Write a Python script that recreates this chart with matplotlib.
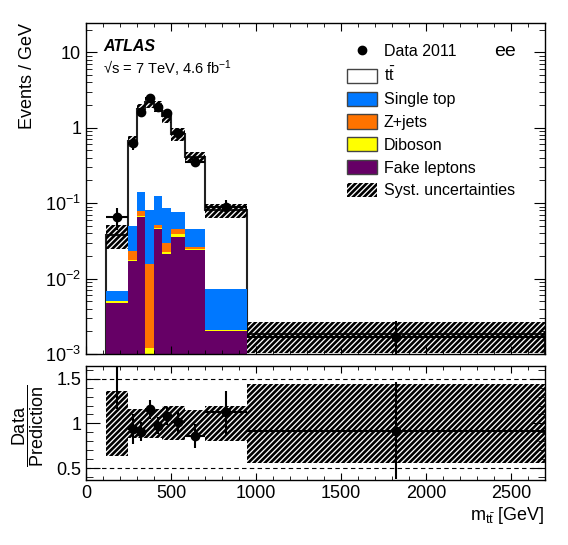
import numpy as np
import matplotlib
matplotlib.use('Agg')
import matplotlib.pyplot as plt
from matplotlib.patches import Patch
from matplotlib.lines import Line2D
from matplotlib.ticker import MultipleLocator, LogLocator, NullFormatter, FixedLocator, FuncFormatter

# bin edges in m_tt [GeV]
edges = [120, 250, 300, 350, 400, 450, 500, 580, 700, 950, 2700]

# events / GeV
data = [0.065, 0.62, 1.6, 2.5, 1.9, 1.56, 0.845, 0.356, 0.090, 0.0017]
data_err = [0.021, 0.11, 0.18, 0.22, 0.19, 0.14, 0.10, 0.054, 0.019, 0.001]

ttbar = [0.0312, 0.611, 1.62, 2.08, 1.825, 1.354, 0.754, 0.368, 0.0727, 0.0018]
single_top = [0.0018, 0.0257, 0.0625, 0.0658, 0.0734, 0.0564, 0.0303, 0.0193, 0.0052, 0.00005]
zjets = [0.00002, 0.0056, 0.011, 0.0145, 0.0042, 0.0068, 0.0064, 0.0015, 0.00002, 0.0]
diboson = [0.0002, 0.0008, 0.0019, 0.0012, 0.0022, 0.0014, 0.0042, 0.0009, 0.0001, 0.0]
fake = [0.0048, 0.0169, 0.0646, 0.0, 0.0452, 0.0213, 0.0351, 0.0240, 0.00199, 0.0]

# relative systematic uncertainty per bin
syst_rel = [0.36, 0.165, 0.165, 0.165, 0.165, 0.19, 0.19, 0.15, 0.20, 0.44]

legend_labels = ['Data 2011', r'$\mathrm{t\bar{t}}$', 'Single top', 'Z+jets',
                 'Diboson', 'Fake leptons', 'Syst. uncertainties']

c_st = '#0078ff'
c_z = '#ff7300'
c_dib = '#ffff00'
c_fake = '#660066'
hatch = '//////'

plt.rcParams['font.family'] = ['Liberation Sans', 'DejaVu Sans']
plt.rcParams['mathtext.fontset'] = 'custom'
plt.rcParams['mathtext.rm'] = 'Liberation Sans'
plt.rcParams['mathtext.it'] = 'Liberation Sans:italic'
plt.rcParams['mathtext.bf'] = 'Liberation Sans:bold'
plt.rcParams['hatch.linewidth'] = 1.9
plt.rcParams['axes.linewidth'] = 1.0

edges = np.array(edges, dtype=float)
centers = 0.5 * (edges[1:] + edges[:-1])
halfw = 0.5 * (edges[1:] - edges[:-1])
floor = 1e-6

cum_fake = np.array(fake)
cum_dib = cum_fake + np.array(diboson)
cum_z = cum_dib + np.array(zjets)
cum_st = cum_z + np.array(single_top)
total = cum_st + np.array(ttbar)
s = np.array(syst_rel)

fig = plt.figure(figsize=(5.68, 5.45), dpi=100)
ax = fig.add_axes([0.1514, 0.3505, 0.808, 0.608])
rax = fig.add_axes([0.1514, 0.1193, 0.808, 0.2091])

# stack, drawn as cumulative histograms from the top down
ax.stairs(total, edges, baseline=floor, fill=True, facecolor='white', edgecolor='none')
ax.stairs(total, edges, baseline=floor, color='#222222', lw=1.5)
for vals, col in [(cum_st, c_st), (cum_z, c_z), (cum_dib, c_dib), (cum_fake, c_fake)]:
    ax.stairs(np.maximum(vals, floor), edges, baseline=floor, fill=True,
              facecolor=col, edgecolor='none')

# systematic band
ax.stairs(total * (1 + s), edges, baseline=total * (1 - s), fill=True,
          facecolor='none', edgecolor='k', hatch=hatch, lw=0)

ax.errorbar(centers, data, yerr=data_err, xerr=halfw, fmt='o', color='k',
            ms=6, elinewidth=1.5, capsize=0)


def log_label(v, pos):
    if v >= 1:
        return '%g' % v
    return r'$10^{%d}$' % int(round(np.log10(v)))


ax.set_yscale('log')
ax.set_ylim(1e-3, 24.7)
ax.set_xlim(0, 2700)
ax.xaxis.set_major_locator(MultipleLocator(500))
ax.xaxis.set_minor_locator(MultipleLocator(100))
ax.yaxis.set_major_locator(LogLocator(base=10, numticks=10))
ax.yaxis.set_major_formatter(FuncFormatter(log_label))
ax.yaxis.set_minor_locator(LogLocator(base=10, subs=np.arange(2, 10), numticks=20))
ax.yaxis.set_minor_formatter(NullFormatter())
ax.tick_params(which='both', direction='in', top=True, right=True, labelsize=13)
ax.tick_params(axis='y', which='major', length=8)
ax.tick_params(axis='y', which='minor', length=4)
ax.tick_params(axis='x', which='major', length=6)
ax.tick_params(axis='x', which='minor', length=3)
ax.tick_params(axis='x', labelbottom=False)
ax.set_ylabel('Events / GeV', fontsize=13, loc='top')
ax.yaxis.set_label_coords(-0.11, 1.0)

handles = [Line2D([], [], marker='o', color='k', ls='none', ms=6),
           Patch(facecolor='white', edgecolor='#444444', lw=1),
           Patch(facecolor=c_st, edgecolor='#444444', lw=1),
           Patch(facecolor=c_z, edgecolor='#444444', lw=1),
           Patch(facecolor=c_dib, edgecolor='#444444', lw=1),
           Patch(facecolor=c_fake, edgecolor='#444444', lw=1),
           Patch(facecolor='white', edgecolor='k', hatch=hatch, lw=0)]
ax.legend(handles, legend_labels, loc='upper left', bbox_to_anchor=(0.5686, 0.937),
          frameon=False, fontsize=11.5, handlelength=1.9, handleheight=1.0,
          labelspacing=0.45, handletextpad=0.4, borderaxespad=0, borderpad=0)

ax.text(0.037, 0.927, 'ATLAS', transform=ax.transAxes, fontsize=11.5,
        fontweight='bold', fontstyle='italic', va='center')
ax.text(0.037, 0.86, '\u221as = 7 TeV, 4.6 fb$^{-1}$', transform=ax.transAxes,
        fontsize=10.5, va='center')
ax.text(0.913, 0.912, 'ee', transform=ax.transAxes, fontsize=14,
        ha='center', va='center')

# ratio panel
ratio = np.array(data) / total
ratio_err = np.array(data_err) / total
rax.axhline(0.5, color='k', lw=0.8, ls=(0, (4, 3)))
rax.axhline(1.5, color='k', lw=0.8, ls=(0, (4, 3)))
rax.stairs(1 + s, edges, baseline=1 - s, fill=True, facecolor='none',
           edgecolor='k', hatch=hatch, lw=0)
rax.errorbar(centers, ratio, yerr=ratio_err, xerr=halfw, fmt='o', color='k',
             ms=6, elinewidth=1.5, capsize=0)
rax.set_xlim(0, 2700)
rax.set_ylim(0.37, 1.64)
rax.xaxis.set_major_locator(MultipleLocator(500))
rax.xaxis.set_minor_locator(MultipleLocator(100))
rax.yaxis.set_major_locator(FixedLocator([0.5, 1.0, 1.5]))
rax.yaxis.set_minor_locator(MultipleLocator(0.1))
rax.yaxis.set_major_formatter(FuncFormatter(lambda v, p: '%g' % v))
rax.tick_params(which='both', direction='in', top=True, right=True, labelsize=13)
rax.tick_params(axis='y', which='major', length=10)
rax.tick_params(axis='y', which='minor', length=5)
rax.tick_params(axis='x', which='major', length=5)
rax.tick_params(axis='x', which='minor', length=3)
rax.set_xlabel(r'$\mathrm{m_{t\bar{t}}}$ [GeV]', fontsize=13, loc='right')
rax.xaxis.set_label_coords(1.0, -0.22)
fig.text(0.05, 1 - 426 / 545, r'$\dfrac{\mathrm{Data}}{\mathrm{Prediction}}$',
         rotation=90, fontsize=13, ha='center', va='center')

fig.savefig('out.png', dpi=100)
